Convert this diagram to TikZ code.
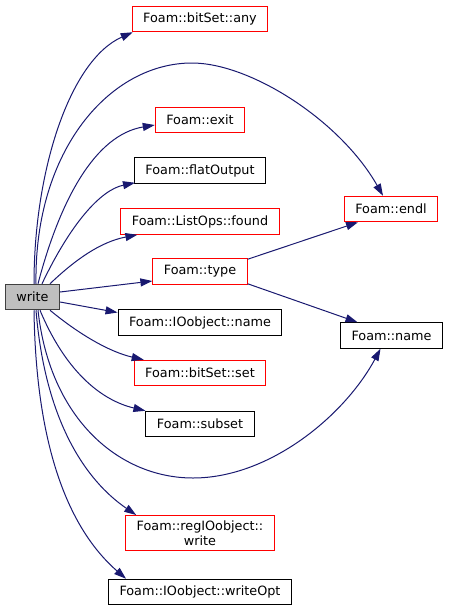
\documentclass[tikz,border=0pt]{standalone}
\usepackage{fontspec}
\setmainfont{DejaVu Sans}
\usepackage{tikz}
\usetikzlibrary{arrows.meta}
\definecolor{callblue}{HTML}{191970}
\definecolor{rootfill}{HTML}{BFBFBF}
\definecolor{rootline}{HTML}{404040}

\begin{document}
\begin{tikzpicture}[x=1pt,y=-1pt,fn/.style={draw=#1,line width=1pt,rectangle,inner xsep=11pt,inner ysep=0pt,minimum height=25.5pt,font=\fontsize{12.8}{15}\selectfont,align=center},call/.style={callblue,line width=1pt,-{Triangle[length=12pt,width=8pt]}}]
\useasboundingbox (0,0) rectangle (448,611);
\node[fn=rootline,fill=rootfill] (w) at (32.5,297) {write};
\foreach \n/\y/\c/\t in %
{any/19/red/{Foam::bitSet::any},ex/120/red/{Foam::exit},flat/170.5/black/{Foam::flatOutput},found/221.5/red/{Foam::ListOps::found},typ/271.5/red/{Foam::type},ioname/322.5/black/{Foam::IOobject::name},set/373/red/{Foam::bitSet::set},subset/424/black/{Foam::subset},wopt/592/black/{Foam::IOobject::writeOpt}} {
   \node[fn=\c] (\n) at (200,\y) {\t};
}
\node[fn=red,inner ysep=5pt] (regwrite) at (200,533) {Foam::regIOobject::\\write};
\node[fn=red] (endl) at (391,209) {Foam::endl};
\node[fn=black] (fname) at (391.5,335.5) {Foam::name};
\draw[call] ([xshift=1.5]w.north) .. controls (34,170) and (70,60) .. ([xshift=1]any.south west);
\draw[call] ([xshift=3.5]w.north) .. controls (34,150) and (110,63) .. (192,63) .. controls (250,63) and (340,120) .. ([xshift=-8]endl.north);
\draw[call] ([xshift=5.5]w.north) .. controls (60,200) and (95,135) .. ([yshift=-5]ex.west);
\draw[call] ([xshift=9.5]w.north) .. controls (70,225) and (100,190) .. ([xshift=1,yshift=1]flat.south west);
\draw[call] ([xshift=17.5]w.north) .. controls (75,260) and (100,242) .. ([xshift=17]found.south west);
\draw[call] ([yshift=5]w.east) -- ([yshift=-9.5]typ.west);
\draw[call] ([yshift=-5]w.east) -- ([yshift=10]ioname.west);
\draw[call] ([xshift=17.5]w.south) .. controls (80,335) and (110,352) .. ([xshift=10]set.north west);
\draw[call] ([xshift=7.5]w.south) .. controls (65,370) and (100,400) .. (subset.north west);
\draw[call] ([xshift=5.5]w.south) .. controls (50,420) and (120,478) .. (193,478) .. controls (270,478) and (345,415) .. ([xshift=-11]fname.south);
\draw[call] ([xshift=3.5]w.south) .. controls (45,420) and (85,480) .. ([xshift=11]regwrite.north west);
\draw[call] ([xshift=1.5]w.south) .. controls (36,450) and (70,530) .. ([xshift=18]wopt.north west);
\draw[call] ([yshift=-1]typ.north east) -- ([xshift=-33]endl.south);
\draw[call] ([yshift=1]typ.south east) -- ([xshift=-34]fname.north);
\end{tikzpicture}
\end{document}
